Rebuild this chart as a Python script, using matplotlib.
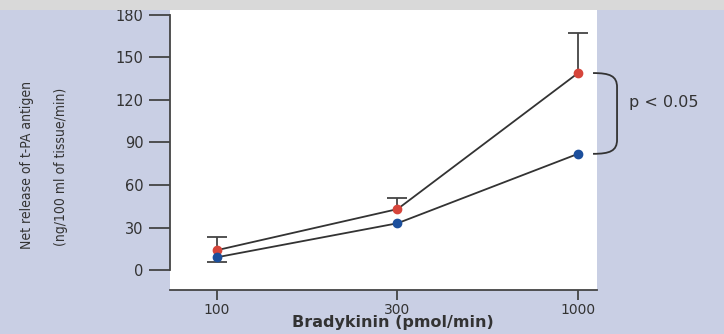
import matplotlib
matplotlib.use("Agg")
import matplotlib.pyplot as plt
from matplotlib.path import Path
from matplotlib.patches import PathPatch, Rectangle

# data
doses = ["100", "300", "1000"]
red_vals = [14, 43, 139]
red_err_up = [9, 8, 28]
blue_vals = [9, 33, 82]
blue_err_down = [3, 0, 0]
yticks = [0, 30, 60, 90, 120, 150, 180]

bg = "#c9cfe4"
red = "#d6453b"
blue = "#1c4f9c"
ink = "#333333"

fig = plt.figure(figsize=(7.24, 3.34), dpi=100, facecolor=bg)
fig.patches.append(Rectangle((0, 0.970), 1, 0.03, transform=fig.transFigure,
                             facecolor="#d9d9d9", edgecolor="none"))

ax = fig.add_axes([170 / 724, 44 / 334, 427 / 724, 280 / 334])
ax.set_facecolor("white")

x = list(range(len(doses)))

# error bars (one-sided)
for i in x:
    if red_err_up[i] > 0:
        eb = ax.errorbar(i, red_vals[i], yerr=[[0], [red_err_up[i]]], fmt="none",
                         ecolor="#444444", elinewidth=1.3, capsize=7, capthick=1.3, zorder=2)
        eb[1][0].set_visible(False)
    if blue_err_down[i] > 0:
        eb = ax.errorbar(i, blue_vals[i], yerr=[[blue_err_down[i]], [0]], fmt="none",
                         ecolor="#444444", elinewidth=1.3, capsize=7, capthick=1.3, zorder=2)
        eb[1][1].set_visible(False)

ax.plot(x, red_vals, color=ink, lw=1.3, zorder=2.5)
ax.plot(x, blue_vals, color=ink, lw=1.3, zorder=2.5)
ax.plot(x, red_vals, linestyle="none", marker="o", ms=6, mfc=red, mec=red, zorder=3)
ax.plot(x, blue_vals, linestyle="none", marker="o", ms=6, mfc=blue, mec=blue, zorder=3)

# bracket + significance
x0, x1 = 2.083, 2.216
ytop, ybot = red_vals[2], blue_vals[2]
verts = [(x0, ytop), (x1 - 0.04, ytop), (x1, ytop - 2), (x1, ytop - 10),
         (x1, ybot + 10),
         (x1, ybot + 2), (x1 - 0.04, ybot), (x0, ybot)]
codes = [Path.MOVETO, Path.CURVE4, Path.CURVE4, Path.CURVE4,
         Path.LINETO,
         Path.CURVE4, Path.CURVE4, Path.CURVE4]
ax.add_patch(PathPatch(Path(verts, codes), fill=False, edgecolor=ink, lw=1.3, clip_on=False))
ax.text(2.283, 118, "p < 0.05", ha="left", va="center", fontsize=11.5, color=ink, clip_on=False)

ax.set_xlim(-0.26, 2.105)
ax.set_ylim(-14.1, 183.5)
ax.set_xticks(x)
ax.set_xticklabels(doses)
ax.set_yticks(yticks)

for s in ["top", "right"]:
    ax.spines[s].set_visible(False)
ax.spines["left"].set_bounds(0, 180)
for s in ["left", "bottom"]:
    ax.spines[s].set_color("#444444")
    ax.spines[s].set_linewidth(1.3)

ax.tick_params(axis="y", direction="out", length=15, width=1.3, color="#444444",
               pad=4, labelsize=10.5, labelcolor=ink)
ax.tick_params(axis="x", direction="out", length=7, width=1.3, color="#444444",
               pad=2, labelsize=10, labelcolor=ink)

ax.set_xlabel("Bradykinin (pmol/min)", fontsize=11.5, fontweight="bold", color=ink, va="center")
ax.xaxis.set_label_coords(0.522, -0.116)

fig.text(27 / 724, 0.506, "Net release of t-PA antigen", rotation=90, ha="center", va="center",
         fontsize=10, family="DejaVu Sans", fontstretch="condensed", color=ink)
fig.text(61 / 724, 0.500, "(ng/100 ml of tissue/min)", rotation=90, ha="center", va="center",
         fontsize=10, family="DejaVu Sans", fontstretch="condensed", color=ink)

fig.savefig("out.png", dpi=100, facecolor=bg)
